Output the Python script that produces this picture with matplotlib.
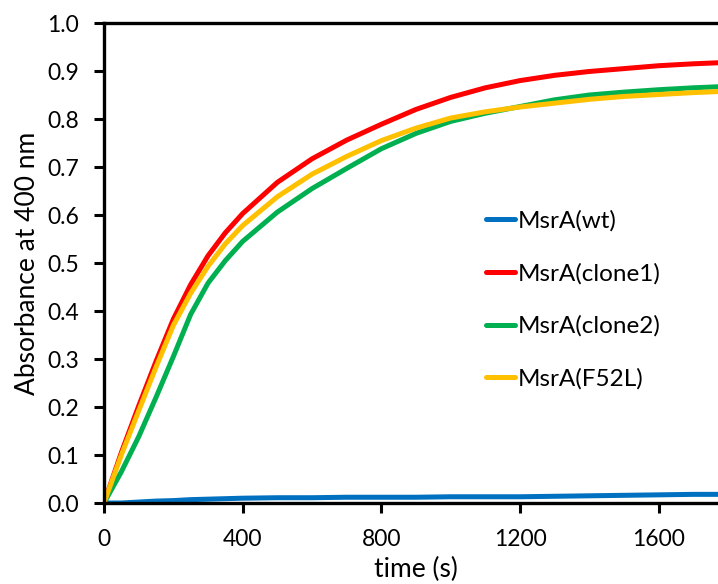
import matplotlib
matplotlib.use("Agg")
from matplotlib import pyplot as plt

# time points (s) and absorbance at 400 nm
time = [0, 50, 100, 150, 200, 250, 300, 350, 400, 500, 600, 700, 800, 900,
        1000, 1100, 1200, 1300, 1400, 1500, 1600, 1700, 1800]
wt = [0.0, 0.0, 0.002, 0.004, 0.005, 0.007, 0.008, 0.009, 0.010, 0.011, 0.011, 0.012, 0.012,
      0.012, 0.013, 0.013, 0.013, 0.014, 0.015, 0.016, 0.017, 0.018, 0.018]
clone1 = [0.0, 0.105, 0.202, 0.295, 0.383, 0.455, 0.515, 0.563, 0.603, 0.668, 0.717, 0.756, 0.789,
          0.82, 0.845, 0.865, 0.88, 0.891, 0.899, 0.905, 0.911, 0.915, 0.918]
clone2 = [0.0, 0.065, 0.138, 0.22, 0.305, 0.393, 0.458, 0.505, 0.545, 0.606, 0.655, 0.697, 0.738,
          0.77, 0.795, 0.812, 0.826, 0.84, 0.85, 0.856, 0.861, 0.865, 0.868]
f52l = [0.0, 0.10, 0.192, 0.283, 0.37, 0.437, 0.493, 0.54, 0.578, 0.638, 0.685, 0.722, 0.755, 0.781,
        0.802, 0.815, 0.825, 0.833, 0.841, 0.847, 0.851, 0.855, 0.858]

labels = ["MsrA(wt)", "MsrA(clone1)", "MsrA(clone2)", "MsrA(F52L)"]
colors = ["#0070c0", "#ff0000", "#00b050", "#ffc000"]

plt.rcParams['font.family'] = ['Lato', 'DejaVu Sans']

fig = plt.figure(figsize=(7.18, 5.84), dpi=100)
ax = fig.add_axes([104 / 718, 81 / 584, 624 / 718, 480 / 584])

for y, c, lab in zip([wt, clone1, clone2, f52l], colors, labels):
    ax.plot(time, y, color=c, lw=3.6, label=lab, solid_capstyle='round')

ax.set_xlim(0, 1800)
ax.set_ylim(0, 1.0)
ax.set_xticks([0, 400, 800, 1200, 1600])
ax.set_yticks([i / 10 for i in range(11)])
ax.set_yticklabels([f"{i / 10:.1f}" for i in range(11)])
ax.tick_params(direction='out', length=7, width=2.2, labelsize=16.5)
ax.tick_params(axis='x', pad=12)
ax.tick_params(axis='y', pad=11)
for s in ax.spines.values():
    s.set_linewidth(2.4)
ax.set_xlabel("time (s)", fontsize=19, labelpad=5)
ax.set_ylabel("Absorbance at 400 nm", fontsize=19, labelpad=5)

ax.legend(loc='center left', bbox_to_anchor=(0.612, 0.423), frameon=False, fontsize=17.5,
          handlelength=1.2, handletextpad=0.12, labelspacing=1.28, borderpad=0,
          borderaxespad=0)

fig.savefig("out.png", dpi=100)
